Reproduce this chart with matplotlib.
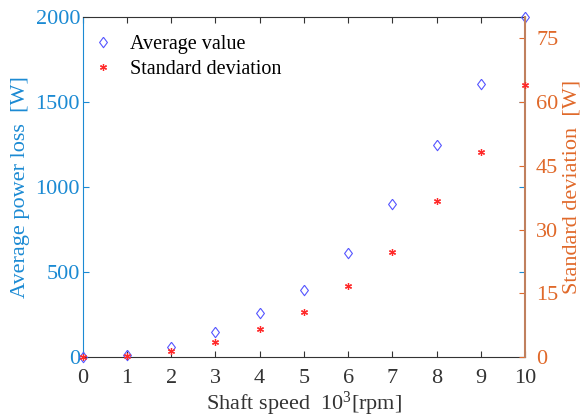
import matplotlib
matplotlib.use("Agg")
import matplotlib.pyplot as plt

speed = [0, 1, 2, 3, 4, 5, 6, 7, 8, 9, 10]
avg_loss = [0, 10, 60, 149, 257, 394, 610, 900, 1249, 1604, 2000]
std_dev = [0.1, 0.3, 1.5, 3.6, 6.5, 10.5, 16.6, 24.6, 36.7, 48.3, 64]
left_ticks = [0, 500, 1000, 1500, 2000]
right_ticks = [0, 15, 30, 45, 60, 75]
x_ticks = list(range(0, 11))

plt.rcParams['font.family'] = ['Liberation Serif', 'DejaVu Serif']
plt.rcParams['mathtext.fontset'] = 'custom'
plt.rcParams['mathtext.rm'] = 'Liberation Serif'
plt.rcParams['mathtext.it'] = 'Liberation Serif:italic'
blue = '#1b8ad3'
orange = '#e0692a'
brown = '#c0805e'
dark = '#333333'

diamond = [(0, 1), (0.75, 0), (0, -1), (-0.75, 0), (0, 1)]

fig = plt.figure(figsize=(5.83, 4.17), dpi=100)
ax = fig.add_axes([0.142, 0.144, 0.7585, 0.815])
ax2 = ax.twinx()

h1, = ax.plot(speed, avg_loss, linestyle='none', marker=diamond, markersize=7.5,
              markerfacecolor='none', markeredgecolor='#5555ff', markeredgewidth=0.8,
              label='Average value', clip_on=False, zorder=3)
h2, = ax2.plot(speed, std_dev, linestyle='none', marker=(6, 2, 0), markersize=5,
               color='#ff2a2a', markeredgewidth=0.9, label='Standard deviation',
               clip_on=False, zorder=3)

ax.set_xlim(0, 10)
ax.set_ylim(0, 2000)
ax2.set_ylim(0, 80)
ax.set_xticks(x_ticks)
ax.set_yticks(left_ticks)
ax2.set_yticks(right_ticks)

ax.tick_params(axis='x', direction='in', top=True, colors=dark, labelcolor=dark,
               labelsize=16, length=4, pad=9)
ax.tick_params(axis='y', direction='in', right=True, colors=blue, labelcolor=blue,
               labelsize=16, length=4, pad=2)
ax2.tick_params(axis='y', direction='in', colors=orange, labelcolor=orange,
                labelsize=16, length=4, pad=8)

for s in ['top', 'bottom']:
    ax.spines[s].set_color(dark)
ax.spines['left'].set_color(blue)
ax.spines['right'].set_visible(False)
ax2.spines['right'].set_color(brown)
ax2.spines['right'].set_linewidth(1.5)
for s in ['left', 'top', 'bottom']:
    ax2.spines[s].set_visible(False)

ax.set_xlabel('Shaft speed  10$^3$[rpm]', fontsize=16, color=dark, labelpad=1)
ax.set_ylabel('Average power loss  [W]', fontsize=16, color=blue, labelpad=4)
ax2.set_ylabel('Standard deviation  [W]', fontsize=16, color=orange, labelpad=3)

ax.legend(handles=[h1, h2], loc='upper left', frameon=False, fontsize=14.5,
          bbox_to_anchor=(-0.03, 1.0), handletextpad=0.6, handlelength=1.5,
          labelspacing=0.3, borderaxespad=0.5)

fig.savefig('out.png', dpi=100)
